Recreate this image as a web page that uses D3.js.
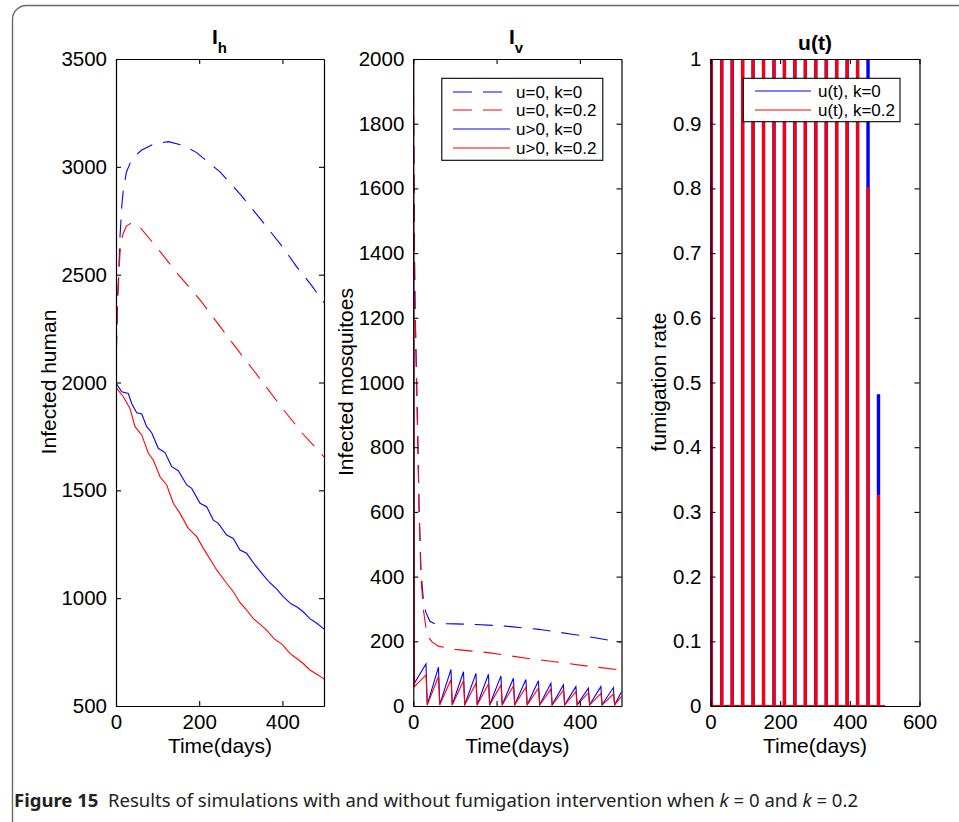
<!DOCTYPE html>
<html><head><meta charset="utf-8">
<script src="https://cdnjs.cloudflare.com/ajax/libs/d3/7.8.5/d3.min.js"></script>
<style>body{margin:0;background:#fff}svg{display:block}</style>
</head><body><svg id="c" width="959" height="822"></svg>
<script>
// ---------------- data ----------------
const ihTicks = [500,1000,1500,2000,2500,3000,3500];
const ivTicks = [0,200,400,600,800,1000,1200,1400,1600,1800,2000];
const uTicks = [0,0.1,0.2,0.3,0.4,0.5,0.6,0.7,0.8,0.9,1];
const timeTicksA = [0,200,400];
const timeTicksU = [0,200,400,600];

// I_h, u=0 (dashed) : [day, value]
const ihNoCtrlK0 = [[0,2000],[1,2150],[2,2260],[4,2400],[5.6,2461],[9.6,2676],[14,2820],[17.5,2893],[25,2975],[33.7,3016],[45,3050],[62,3078],[90,3105],[126,3117],[160,3100],[194,3066],[250,2977],[300,2870],[346,2761],[400,2630],[434,2537],[470,2450],[500,2370]];
const ihNoCtrlK02 = [[0,2000],[1,2150],[2,2250],[4,2390],[5.6,2450],[9.6,2600],[13,2660],[17.5,2692],[25,2725],[37.7,2741],[60,2715],[106,2607],[150,2500],[202,2383],[250,2260],[298,2137],[330,2058],[400,1880],[450,1760],[500,1655]];
// I_h, u>0 (solid)
const ihCtrlK0 = [[0,2000],[1.6,1993],[13.7,1957],[29.6,1949],[37.7,1903],[49.7,1860],[61.8,1854],[73.8,1795],[85.8,1767],[101.7,1695],[117.8,1675],[133.9,1610],[149.8,1591],[170,1525],[182,1509],[202,1440],[218,1424],[234,1362],[246,1347],[266,1293],[282,1277],[298,1223],[314,1208],[334,1154],[354,1107],[368,1075],[386,1043],[402,1007],[420,975],[436,958],[450,937],[466,905],[482,885],[498,860],[500,857]];
const ihCtrlK02 = [[0,1985],[1.6,1973],[17.6,1934],[33.6,1880],[45.7,1795],[61.8,1757],[77.7,1672],[89.7,1641],[105.8,1563],[121.9,1525],[137.8,1440],[153.9,1393],[173.8,1324],[194,1285],[210,1231],[230,1169],[242,1131],[266,1069],[282,1030],[298,980],[314,945],[330,905],[346,880],[362,852],[380,812],[400,785],[418,744],[436,718],[450,697],[466,667],[482,648],[498,628],[500,625]];

// I_v, u=0 (dashed)
const ivNoCtrlK0 = [[0,2000],[1,1750],[2.4,1460],[4,1260],[6.5,1100],[10.8,832],[13.7,627],[18.4,420],[24,330],[30,290],[40,262],[50,255],[100,254],[150,252],[221,247],[301,237],[381,222],[440,210],[500,197]];
const ivNoCtrlK02 = [[0,2000],[1,1740],[2.4,1440],[4,1240],[6.5,1080],[10.8,820],[13.7,610],[18.4,400],[24,300],[30,245],[36,214],[45,198],[60,185],[100,175],[180,165],[276,147],[350,135],[420,123],[500,111]];
// I_v, u>0 (solid): sawtooth between fumigation pulses
const pulseDays = [1,31,61,91,121,151,181,211,241,271,301,331,361,391,421,451,481];
const ivCtrlK0Start = [2000, 70];     // value at day 0, value right after first pulse
const ivCtrlK0Peaks = [130,120,113,106,101,98,93,86,82,78,70,65,60,55,60,57];
const ivCtrlK0Trough = 4;
const ivCtrlK0End = 44;
const ivCtrlK02Start = [2000, 60];
const ivCtrlK02Peaks = [96,91,82,78,70,68,65,62,58,55,52,49,44,41,39,37];
const ivCtrlK02Trough = 3;
const ivCtrlK02End = 30;

// u(t) pulse heights at the pulse days
const uK0Heights  = [1,1,1,1,1,1,1,1,1,1,1,1,1,1,1,1,0.48];
const uK02Heights = [1,1,1,1,1,1,1,1,1,1,1,1,1,1,1,0.8,0.325];

const legendIv = ["u=0, k=0","u=0, k=0.2","u>0, k=0","u>0, k=0.2"];
const legendU = ["u(t), k=0","u(t), k=0.2"];

// ---------------- helpers ----------------
const BLUE = "#0000ff", RED = "#ff0000", DASH = "18,11";
const FONT = "'Liberation Sans', Arial, Helvetica, sans-serif";
const svg = d3.select("#c");

// frame
svg.append("rect").attr("x",12.5).attr("y",5.5).attr("width",990).attr("height",860)
  .attr("rx",14).attr("fill","none").attr("stroke","#6a6a6a").attr("stroke-width",1.4);

function sawtooth(start, peaks, trough, end) {
  const pts = [[0,start[0]],[pulseDays[0]+1.5,start[1]]];
  for (let i = 1; i < pulseDays.length; i++) {
    pts.push([pulseDays[i]-0.5, peaks[i-1]]);
    pts.push([pulseDays[i]+2.5, trough]);
  }
  pts.push([500,end]);
  return pts;
}
function pulses(heights, w, off) {
  const pts = [[0,0]];
  pulseDays.forEach((d,i) => {
    pts.push([d+off,0],[d+off,heights[i]],[d+off+w,heights[i]],[d+off+w,0]);
  });
  pts.push([500,0]);
  return pts;
}

function panel(cfg) {
  const x = d3.scaleLinear().domain(cfg.xd).range([cfg.x0,cfg.x1]);
  const y = d3.scaleLinear().domain(cfg.yd).range([706,59]);
  const g = svg.append("g");
  const id = "clip"+cfg.name;
  svg.append("clipPath").attr("id",id).append("rect")
    .attr("x",cfg.x0).attr("y",59).attr("width",cfg.x1-cfg.x0).attr("height",647);
  const lg = g.append("g").attr("clip-path",`url(#${id})`);
  const line = d3.line().x(d=>x(d[0])).y(d=>y(d[1]));
  cfg.series.forEach(s => {
    lg.append("path").attr("d",line(s.data)).attr("fill","none")
      .attr("stroke",s.color).attr("stroke-width",s.w||1.1)
      .attr("stroke-dasharray",s.dash?DASH:null).attr("stroke-linejoin","miter");
  });
  // axes (box with inward ticks)
  const fmt = cfg.yfmt || (d=>d);
  const ax = [
    g.append("g").attr("transform",`translate(0,706)`).call(d3.axisBottom(x).tickValues(cfg.xt).tickSizeInner(-5).tickSizeOuter(0).tickPadding(8)),
    g.append("g").attr("transform",`translate(0,59)`).call(d3.axisTop(x).tickValues(cfg.xt).tickSizeInner(-5).tickSizeOuter(0).tickFormat("")),
    g.append("g").attr("transform",`translate(${cfg.x0},0)`).call(d3.axisLeft(y).tickValues(cfg.yt).tickSizeInner(-5).tickSizeOuter(0).tickPadding(9).tickFormat(fmt)),
    g.append("g").attr("transform",`translate(${cfg.x1},0)`).call(d3.axisRight(y).tickValues(cfg.yt).tickSizeInner(-5).tickSizeOuter(0).tickFormat(""))
  ];
  ax.forEach(a => {
    a.select(".domain").attr("stroke","#000").attr("stroke-width",1.2);
    a.selectAll(".tick line").attr("stroke","#000").attr("stroke-width",1.1);
    a.selectAll("text").attr("font-family",FONT).attr("font-size",20.5).attr("fill","#000");
  });
  // x label
  g.append("text").attr("x",(cfg.x0+cfg.x1)/2).attr("y",753).attr("text-anchor","middle")
    .attr("font-family",FONT).attr("font-size",21).text("Time(days)");
  // y label
  g.append("text").attr("transform",`translate(${cfg.ylx},382) rotate(-90)`).attr("text-anchor","middle")
    .attr("font-family",FONT).attr("font-size",21).text(cfg.ylabel);
  return {x,y,g};
}

// ---------------- panel 1: I_h ----------------
panel({name:"a", x0:116, x1:324, xd:[0,500], yd:[500,3500], xt:timeTicksA, yt:ihTicks,
  ylx:56, ylabel:"Infected human",
  series:[
    {data:ihNoCtrlK0, color:BLUE, dash:true},
    {data:ihNoCtrlK02, color:RED, dash:true},
    {data:ihCtrlK0, color:BLUE},
    {data:ihCtrlK02, color:RED}
  ]});
svg.append("text").attr("x",212).attr("y",44).attr("font-family",FONT).attr("font-weight","bold")
  .attr("font-size",21).text("I").append("tspan").attr("dy",9).attr("font-size",15).text("h");

// ---------------- panel 2: I_v ----------------
panel({name:"b", x0:413.3, x1:621.5, xd:[0,500], yd:[0,2000], xt:timeTicksA, yt:ivTicks,
  ylx:353, ylabel:"Infected mosquitoes",
  series:[
    {data:ivNoCtrlK0, color:BLUE, dash:true},
    {data:ivNoCtrlK02, color:RED, dash:true},
    {data:sawtooth(ivCtrlK0Start, ivCtrlK0Peaks, ivCtrlK0Trough, ivCtrlK0End), color:BLUE},
    {data:sawtooth(ivCtrlK02Start, ivCtrlK02Peaks, ivCtrlK02Trough, ivCtrlK02End), color:RED}
  ]});
svg.append("text").attr("x",509).attr("y",44).attr("font-family",FONT).attr("font-weight","bold")
  .attr("font-size",21).text("I").append("tspan").attr("dy",9).attr("font-size",15).text("v");

// legend I_v
{
  const lg = svg.append("g");
  lg.append("rect").attr("x",441.8).attr("y",78.3).attr("width",161).attr("height",82)
    .attr("fill","#fff").attr("stroke","#000").attr("stroke-width",1.1);
  const cols=[BLUE,RED,BLUE,RED], dashes=[true,true,false,false], ys=[92,110,129,148];
  legendIv.forEach((t,i)=>{
    lg.append("line").attr("x1",453).attr("x2",510).attr("y1",ys[i]).attr("y2",ys[i])
      .attr("stroke",cols[i]).attr("stroke-width",1.2).attr("stroke-dasharray",dashes[i]?"19,11":null);
    lg.append("text").attr("x",516).attr("y",ys[i]+6).attr("font-family",FONT).attr("font-size",17).text(t);
  });
}

// ---------------- panel 3: u(t) ----------------
panel({name:"c", x0:710.5, x1:919.5, xd:[0,600], yd:[0,1], xt:timeTicksU, yt:uTicks,
  ylx:666, ylabel:"fumigation rate", yfmt:d=>d3.format("")(d),
  series:[
    {data:pulses(uK0Heights, 3.5, -0.5), color:BLUE, w:2.2},
    {data:pulses(uK02Heights, 2.5, 0), color:RED, w:2.2}
  ]});
svg.append("text").attr("x",815).attr("y",50).attr("text-anchor","middle").attr("font-family",FONT)
  .attr("font-weight","bold").attr("font-size",21).text("u(t)");
{
  const lg = svg.append("g");
  lg.append("rect").attr("x",743.3).attr("y",78.3).attr("width",156.7).attr("height",43.4)
    .attr("fill","#fff").attr("stroke","#000").attr("stroke-width",1.1);
  const cols=[BLUE,RED], ys=[91,110];
  legendU.forEach((t,i)=>{
    lg.append("line").attr("x1",755).attr("x2",811).attr("y1",ys[i]).attr("y2",ys[i])
      .attr("stroke",cols[i]).attr("stroke-width",1.2);
    lg.append("text").attr("x",818).attr("y",ys[i]+6).attr("font-family",FONT).attr("font-size",17).text(t);
  });
}

// ---------------- caption ----------------
{
  const t = svg.append("text").attr("x",14).attr("y",807).attr("font-family","'Noto Sans', 'Open Sans', sans-serif")
    .attr("font-size",17.5).attr("fill","#222").attr("textLength",844).attr("lengthAdjust","spacingAndGlyphs");
  t.append("tspan").attr("font-weight","bold").text("Figure 15");
  t.append("tspan").text("\u00a0\u00a0Results of simulations with and without fumigation intervention when ");
  t.append("tspan").attr("font-style","italic").text("k");
  t.append("tspan").text(" = 0 and ");
  t.append("tspan").attr("font-style","italic").text("k");
  t.append("tspan").text(" = 0.2");
}
</script></body></html>
